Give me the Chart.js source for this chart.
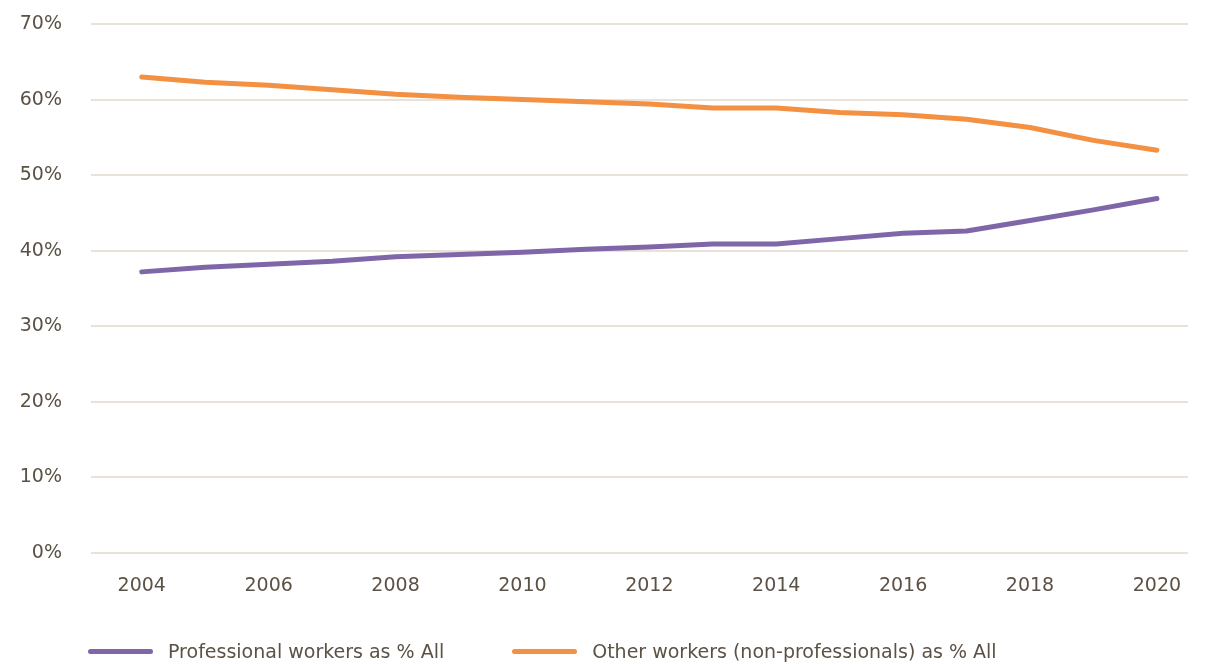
<!DOCTYPE html>
<html>
<head>
<meta charset="utf-8">
<script src="https://cdn.jsdelivr.net/npm/chart.js@4.4.0/dist/chart.umd.min.js"></script>
<style>
  html, body { margin: 0; padding: 0; background: #fff; }
  #wrap { position: relative; width: 1205px; height: 664px; }
  #legend {
    position: absolute; left: 88px; top: 640px;
    display: flex; align-items: center;
    font-family: "DejaVu Sans", sans-serif; font-size: 19px; color: #5b5145;
  }
  .item { display: flex; align-items: center; margin-right: 68px; }
  .swatch { width: 65px; height: 5px; border-radius: 3px; margin-right: 15px; }
</style>
</head>
<body>
<div id="wrap">
  <canvas id="chart" width="1205" height="664"></canvas>
  <div id="legend"></div>
</div>
<script>
const years = [2004, 2005, 2006, 2007, 2008, 2009, 2010, 2011, 2012, 2013, 2014, 2015, 2016, 2017, 2018, 2019, 2020];
const xTicks = [2004, 2006, 2008, 2010, 2012, 2014, 2016, 2018, 2020];
const yTicks = [0, 10, 20, 30, 40, 50, 60, 70];

// % of all workers
const professional = [37.2, 37.8, 38.2, 38.6, 39.2, 39.5, 39.8, 40.2, 40.5, 40.9, 40.9, 41.6, 42.3, 42.6, 44.0, 45.4, 46.9];
const others = [63.0, 62.3, 61.9, 61.3, 60.7, 60.3, 60.0, 59.7, 59.4, 58.9, 58.9, 58.3, 58.0, 57.4, 56.3, 54.6, 53.3];

const labelProfessional = 'Professional workers as % All';
const labelOthers = 'Other workers (non-professionals) as % All';

const PURPLE = '#7f66a9';
const ORANGE = '#f39041';
const TEXT = '#5b5145';
const GRID = '#e9e2d8';

const toPoints = vals => vals.map((v, i) => ({ x: years[i], y: v }));

const ctx = document.getElementById('chart').getContext('2d');
const chart = new Chart(ctx, {
  type: 'line',
  data: {
    datasets: [
      { label: labelProfessional, data: toPoints(professional), borderColor: PURPLE, backgroundColor: PURPLE },
      { label: labelOthers, data: toPoints(others), borderColor: ORANGE, backgroundColor: ORANGE }
    ]
  },
  options: {
    responsive: false,
    animation: false,
    layout: { padding: { top: 24, right: 17, left: 0, bottom: 0 } },
    elements: {
      line: { borderWidth: 5, tension: 0, borderCapStyle: 'round', borderJoinStyle: 'round' },
      point: { radius: 0 }
    },
    scales: {
      x: {
        type: 'linear',
        min: 2003.2,
        max: 2020.49,
        afterBuildTicks: axis => { axis.ticks = xTicks.map(v => ({ value: v })); },
        afterFit: axis => { axis.height = 111; },
        grid: { display: false },
        border: { display: false },
        ticks: {
          padding: 14,
          color: TEXT,
          font: { family: 'DejaVu Sans', size: 19 },
          callback: v => String(v)
        }
      },
      y: {
        min: 0,
        max: 70,
        afterBuildTicks: axis => { axis.ticks = yTicks.map(v => ({ value: v })); },
        afterFit: axis => { axis.width = 91; },
        // invisible tick marks keep the labels away from the plot without padding the top
        grid: { color: GRID, lineWidth: 2, drawTicks: true, tickLength: 29, tickColor: 'rgba(0,0,0,0)' },
        border: { display: false },
        ticks: {
          padding: 0,
          color: TEXT,
          font: { family: 'DejaVu Sans', size: 19 },
          callback: v => v + '%'
        }
      }
    },
    plugins: {
      legend: { display: false },
      tooltip: { enabled: false }
    }
  }
});

// legend below the chart
const legend = document.getElementById('legend');
chart.data.datasets.forEach(ds => {
  const item = document.createElement('div');
  item.className = 'item';
  item.innerHTML = `<span class="swatch" style="background:${ds.borderColor}"></span><span>${ds.label}</span>`;
  legend.appendChild(item);
});
</script>
</body>
</html>
